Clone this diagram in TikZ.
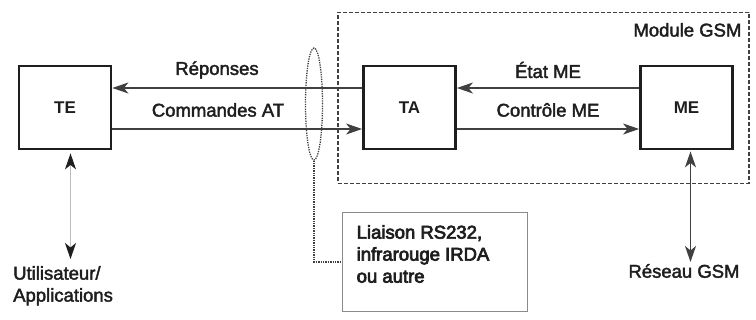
\documentclass[tikz,border=0pt]{standalone}
\usepackage{fontspec}
\setmainfont{Liberation Sans}
\usetikzlibrary{arrows.meta,shapes.geometric,calc}
\definecolor{ink}{HTML}{1E1E1E}
\definecolor{lightline}{HTML}{BDBDBD}
\definecolor{boxline}{HTML}{8A8A8A}
% slightly heavier strokes for printed text (fill + stroke render mode)
\newcommand\inked[2]{\special{pdf:literal direct 2 Tr #1 w}#2\special{pdf:literal direct 0 Tr}}
\tikzset{
  head/.tip={Stealth[length=16pt,width=11pt,inset=4.5pt]},
  darkhead/.tip={Stealth[length=16pt,width=11pt,inset=4.5pt,color=ink]},
  blk/.style={draw=ink, line width=2.8pt, minimum width=92pt, minimum height=83pt,
    font=\fontsize{17}{20}\selectfont\bfseries, text=ink},
  lbl/.style={font=\fontsize{18.5}{22}\selectfont, text=ink, inner sep=0pt},
  flow/.style={-head, draw=ink!85, line width=1.5pt},
  gsmbox/.style={draw=ink!85, dash pattern=on 4pt off 2pt, line width=1.2pt,
    minimum width=411pt, minimum height=171pt, inner sep=0pt},
  linkbox/.style={draw=boxline, line width=1pt, minimum width=185pt, minimum height=99pt, inner sep=0pt},
  loop/.style={draw=ink!85, dash pattern=on 1.3pt off 1.1pt, line width=1.3pt},
}
\begin{document}
\begin{tikzpicture}[x=1pt,y=-1pt]
\useasboundingbox (0,0) rectangle (756,320);

% GSM module frame
\node[gsmbox] (gsm) at (543.5,98) {};
\node[lbl, anchor=north east] (gsmtitle) at ($(gsm.north east)+(-8,11)$) {\inked{0.4}{Module GSM}};

% main blocks
\node[blk] (te) at (65,107.5) {TE};
\node[blk] (ta) at (409.5,107.5) {TA};
\node[blk] (me) at (686.5,107.5) {ME};

% rows of the horizontal links
\coordinate (r1) at (0,88);
\coordinate (r2) at (0,129);

\draw[flow] (ta.west |- r1) -- (te.east |- r1);
\draw[flow] (te.east |- r2) -- (ta.west |- r2);
\draw[flow] (me.west |- r1) -- (ta.east |- r1);
\draw[flow] (ta.east |- r2) -- (me.west |- r2);

\node[lbl] (rep) at (217,70) {\inked{0.4}{Réponses}};
\node[lbl] (cmd) at (218,110) {\inked{0.4}{Commandes AT}};
\node[lbl] (etat) at (548,70) {\inked{0.4}{État ME}};
\node[lbl] (ctrl) at (548,110) {\inked{0.4}{Contrôle ME}};

% serial link marker
\node[loop, ellipse, minimum width=17pt, minimum height=112pt, inner sep=0pt] (link) at (314,104) {};
\node[linkbox] (liaison) at (434.5,262) {};
\node[lbl, anchor=north west, align=left] (liaisontxt)
  at ($(liaison.north west)+(15,13)$) {\inked{0.7}{Liaison RS232,}\\\inked{0.7}{infrarouge IRDA}\\\inked{0.7}{ou autre}};
\draw[loop] (link.south) |- (liaison.west);

% user side
\coordinate (uapp) at (70.5,259);
\draw[darkhead-darkhead, draw=lightline, line width=1pt] ([yshift=-3pt]uapp |- te.south) -- (uapp);
\node[lbl, anchor=north west, align=left] (user) at (13,266) {\inked{0.4}{Utilisateur/}\\\inked{0.4}{Applications}};

% network side
\coordinate (net) at (690.5,262);
\draw[head-head, draw=ink!85, line width=1.5pt] ([yshift=-1pt]net |- me.south) -- (net);
\node[lbl] (reseau) at (684,271) {\inked{0.4}{Réseau GSM}};
\end{tikzpicture}
\end{document}
